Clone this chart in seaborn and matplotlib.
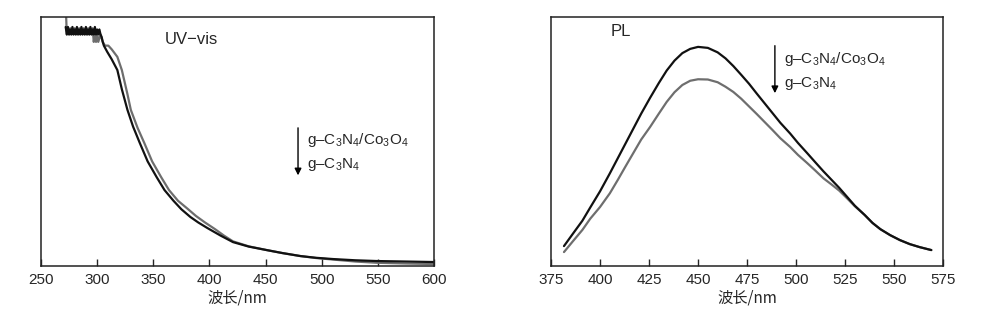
import seaborn as sns
import matplotlib.pyplot as plt
import pandas as pd

# UV-vis absorption (arbitrary units, 0..1 of the plot height)
uv_wl_composite = [272, 273, 274, 275, 276, 277, 278, 279, 280, 281, 282, 283, 284, 285,
                   286, 287, 288, 289, 290, 291, 292, 293, 294, 295, 296, 297, 298, 299,
                   300, 301, 302, 303, 304, 305, 306, 309, 313, 318, 322, 327, 332, 338,
                   345, 353, 360, 368, 375, 383, 390, 398, 410, 421, 435, 451, 465, 481,
                   495, 510, 530, 549, 575, 600]
uv_abs_composite = [0.96, 0.93, 0.96, 0.93, 0.95, 0.93, 0.96, 0.93, 0.95, 0.93, 0.96, 0.93,
                    0.95, 0.93, 0.96, 0.93, 0.95, 0.93, 0.96, 0.93, 0.95, 0.93, 0.96, 0.93,
                    0.95, 0.93, 0.96, 0.93, 0.95, 0.93, 0.95, 0.93, 0.92, 0.90, 0.885, 0.86,
                    0.83, 0.787, 0.71, 0.627, 0.56, 0.494, 0.42, 0.357, 0.305, 0.262, 0.228,
                    0.197, 0.175, 0.153, 0.122, 0.096, 0.078, 0.064, 0.052, 0.040, 0.033,
                    0.028, 0.023, 0.020, 0.018, 0.016]
uv_wl_gcn = [272, 273, 274, 275, 276, 277, 278, 279, 280, 281, 282, 283, 284, 285, 286,
             287, 288, 289, 290, 291, 292, 293, 294, 295, 296, 297, 298, 299, 300, 301,
             303, 305, 307, 310, 313, 318, 322, 327, 330, 336, 342, 349, 357, 364, 372,
             380, 388, 396, 405, 413, 421, 435, 451, 465, 481, 495, 510, 530, 549, 575, 600]
uv_abs_gcn = [1.05, 0.93, 0.955, 0.93, 0.955, 0.93, 0.955, 0.93, 0.955, 0.93, 0.955, 0.93,
              0.955, 0.93, 0.955, 0.93, 0.955, 0.93, 0.955, 0.93, 0.955, 0.93, 0.955, 0.93,
              0.955, 0.90, 0.93, 0.90, 0.93, 0.90, 0.93, 0.90, 0.885, 0.885, 0.87, 0.84,
              0.787, 0.69, 0.627, 0.555, 0.494, 0.42, 0.357, 0.305, 0.262, 0.232, 0.201,
              0.175, 0.148, 0.122, 0.099, 0.079, 0.064, 0.052, 0.040, 0.032, 0.026, 0.018,
              0.013, 0.010, 0.008]

# PL emission
pl_wl = [381.6, 386, 391, 395, 400, 405, 409, 413, 417, 421, 425.5, 430, 434, 438, 442,
         446, 450, 455, 460, 464, 468, 472, 476, 480, 484, 488, 492, 497, 501, 505.6, 510,
         514, 518, 522, 526, 530, 535, 539, 543, 548, 553, 558, 563, 569]
pl_composite = [0.080, 0.128, 0.182, 0.235, 0.300, 0.372, 0.432, 0.492, 0.552, 0.612, 0.675,
                0.735, 0.785, 0.825, 0.855, 0.872, 0.880, 0.876, 0.858, 0.834, 0.803, 0.768,
                0.732, 0.692, 0.653, 0.614, 0.575, 0.532, 0.494, 0.454, 0.415, 0.380, 0.347,
                0.314, 0.278, 0.242, 0.205, 0.173, 0.148, 0.124, 0.104, 0.088, 0.076, 0.064]
pl_gcn = [0.056, 0.098, 0.145, 0.190, 0.237, 0.292, 0.345, 0.400, 0.454, 0.508, 0.558,
          0.612, 0.659, 0.698, 0.727, 0.744, 0.750, 0.749, 0.738, 0.720, 0.699, 0.672,
          0.641, 0.610, 0.578, 0.546, 0.513, 0.478, 0.446, 0.414, 0.382, 0.352, 0.328,
          0.303, 0.272, 0.240, 0.205, 0.173, 0.148, 0.124, 0.104, 0.088, 0.076, 0.064]

sns.set_style('white')
plt.rcParams['font.family'] = ['Liberation Sans', 'Noto Sans CJK SC', 'DejaVu Sans']
plt.rcParams['mathtext.fontset'] = 'custom'
plt.rcParams['mathtext.rm'] = 'Liberation Sans'
plt.rcParams['mathtext.it'] = 'Liberation Sans:italic'

fig = plt.figure(figsize=(9.9, 3.27), dpi=100)
ax1 = fig.add_axes([0.0414, 0.1865, 0.397, 0.7615])
ax2 = fig.add_axes([0.5566, 0.1865, 0.396, 0.7615])

uv1 = pd.DataFrame({'wl': uv_wl_composite, 'a': uv_abs_composite})
uv2 = pd.DataFrame({'wl': uv_wl_gcn, 'a': uv_abs_gcn})
sns.lineplot(data=uv2, x='wl', y='a', ax=ax1, color='#6e6e6e', lw=1.6, sort=False, estimator=None)
sns.lineplot(data=uv1, x='wl', y='a', ax=ax1, color='#111111', lw=1.6, sort=False, estimator=None)

pl = pd.DataFrame({'wl': pl_wl, 'c': pl_composite, 'g': pl_gcn})
sns.lineplot(data=pl, x='wl', y='g', ax=ax2, color='#6e6e6e', lw=1.6, estimator=None)
sns.lineplot(data=pl, x='wl', y='c', ax=ax2, color='#111111', lw=1.6, estimator=None)

ax1.set_xlim(250, 600)
ax1.set_xticks(range(250, 601, 50))
ax2.set_xlim(375, 575)
ax2.set_xticks(range(375, 576, 25))

lab1 = 'g\u2013C$_3$N$_4$/Co$_3$O$_4$'
lab2 = 'g\u2013C$_3$N$_4$'
for ax in (ax1, ax2):
    ax.set_ylim(0, 1)
    ax.set_yticks([])
    ax.set_ylabel('')
    ax.set_xlabel('波长/nm', fontsize=11, labelpad=2,
                  family=['Noto Sans CJK SC', 'DejaVu Sans'])
    ax.tick_params(axis='x', direction='in', length=5, width=1, labelsize=11, pad=5,
                   bottom=True)
    for s in ax.spines.values():
        s.set_linewidth(1.1)
        s.set_color('#222222')

ax1.text(0.316, 0.908, 'UV\u2212vis', transform=ax1.transAxes, fontsize=12, va='center')
ax2.text(0.151, 0.94, 'PL', transform=ax2.transAxes, fontsize=12, va='center')

ax1.annotate('', xy=(0.654, 0.353), xytext=(0.654, 0.566), xycoords='axes fraction',
             arrowprops=dict(arrowstyle='-|>', color='black', lw=1, mutation_scale=10))
ax1.text(0.677, 0.506, lab1, transform=ax1.transAxes, fontsize=11, va='center')
ax1.text(0.677, 0.406, lab2, transform=ax1.transAxes, fontsize=11, va='center')

ax2.annotate('', xy=(0.571, 0.683), xytext=(0.571, 0.896), xycoords='axes fraction',
             arrowprops=dict(arrowstyle='-|>', color='black', lw=1, mutation_scale=10))
ax2.text(0.594, 0.831, lab1, transform=ax2.transAxes, fontsize=11, va='center')
ax2.text(0.594, 0.731, lab2, transform=ax2.transAxes, fontsize=11, va='center')

plt.savefig('out.png', dpi=100)
